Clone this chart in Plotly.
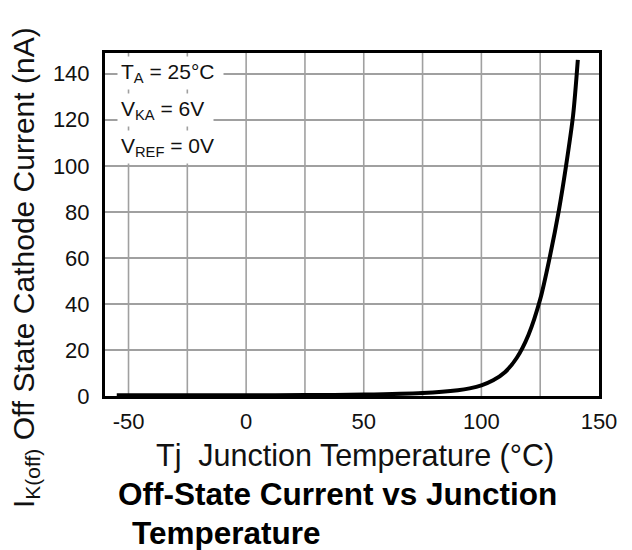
import plotly.graph_objects as go

temps = [-55, -25, 0, 25, 50, 75, 90, 95, 100, 105, 110, 115, 120, 125, 129, 133, 136, 139, 141]
current_na = [0.3, 0.3, 0.3, 0.4, 0.6, 1.3, 2.5, 3.3, 4.6, 6.8, 10.3, 16.5, 26.5, 42, 60, 81, 100, 122, 146]

x_ticks = [-50, 0, 50, 100, 150]
y_ticks = [0, 20, 40, 60, 80, 100, 120, 140]

FONT = "Liberation Sans, Arial, sans-serif"

# the page places the figure 8px from the window's top-left corner
OFF = 8
W, H = 632 - OFF, 550 - OFF
L, R, T, B = 105 - OFF, 599 - OFF, 53 - OFF, 396 - OFF


def px(x):
    """window pixel x -> paper coordinate"""
    return (x - OFF - L) / (R - L)


def py(y):
    """window pixel y -> paper coordinate"""
    return (B - (y - OFF)) / (B - T)


fig = go.Figure()
fig.add_trace(go.Scatter(
    x=temps, y=current_na, mode="lines",
    line=dict(color="black", width=4, shape="spline", smoothing=0.8),
    showlegend=False, hoverinfo="skip",
))

grid = "#a0a0a0"
fig.update_xaxes(
    range=[-60, 150], tickvals=x_ticks, ticktext=[str(v) for v in x_ticks],
    showgrid=False, zeroline=False,
    showline=True, linecolor="black", linewidth=3, mirror=True,
    ticks="", ticklabelstandoff=4,
    tickfont=dict(family=FONT, size=22, color="#111"),
)
fig.update_yaxes(
    range=[0, 149], tickvals=y_ticks, ticktext=[str(v) for v in y_ticks],
    showgrid=True, gridcolor=grid, gridwidth=1.6, zeroline=False,
    showline=True, linecolor="black", linewidth=3, mirror=True,
    ticks="", ticklabelstandoff=8,
    tickfont=dict(family=FONT, size=22, color="#111"),
)
for v in range(-50, 150, 25):
    fig.add_vline(x=v, line=dict(color=grid, width=1.6), layer="below")

anns = []
cond = [("T<sub>A</sub> = 25°C ", 73), ("V<sub>KA</sub> = 6V ", 110), ("V<sub>REF</sub> = 0V ", 147)]
for txt, ypx in cond:
    anns.append(dict(text=txt, xref="paper", yref="paper", x=px(117), y=py(ypx),
                     xanchor="left", yanchor="middle", showarrow=False,
                     bgcolor="white", borderpad=3,
                     font=dict(family=FONT, size=21, color="#111")))

anns.append(dict(text="I<sub>K(off)</sub> Off State Cathode Current (nA)",
                 xref="paper", yref="paper", x=px(25), y=py(268),
                 textangle=-90, showarrow=False, xanchor="center", yanchor="middle",
                 font=dict(family=FONT, size=30, color="#111")))
anns.append(dict(text="Tj  Junction Temperature (°C)",
                 xref="paper", yref="paper", x=px(355), y=py(455),
                 showarrow=False, xanchor="center", yanchor="middle",
                 font=dict(family=FONT, size=30.5, color="#111")))
anns.append(dict(text="<b>Off-State Current vs Junction</b>",
                 xref="paper", yref="paper", x=px(116), y=py(494),
                 showarrow=False, xanchor="left", yanchor="middle",
                 font=dict(family=FONT, size=31.5, color="#000")))
anns.append(dict(text="<b>Temperature</b>",
                 xref="paper", yref="paper", x=px(130), y=py(533),
                 showarrow=False, xanchor="left", yanchor="middle",
                 font=dict(family=FONT, size=31.5, color="#000")))

fig.update_layout(
    width=W, height=H,
    margin=dict(l=L, r=W - R, t=T, b=H - B, pad=0),
    paper_bgcolor="white", plot_bgcolor="white",
    annotations=anns,
)

fig.write_html("out.html")
